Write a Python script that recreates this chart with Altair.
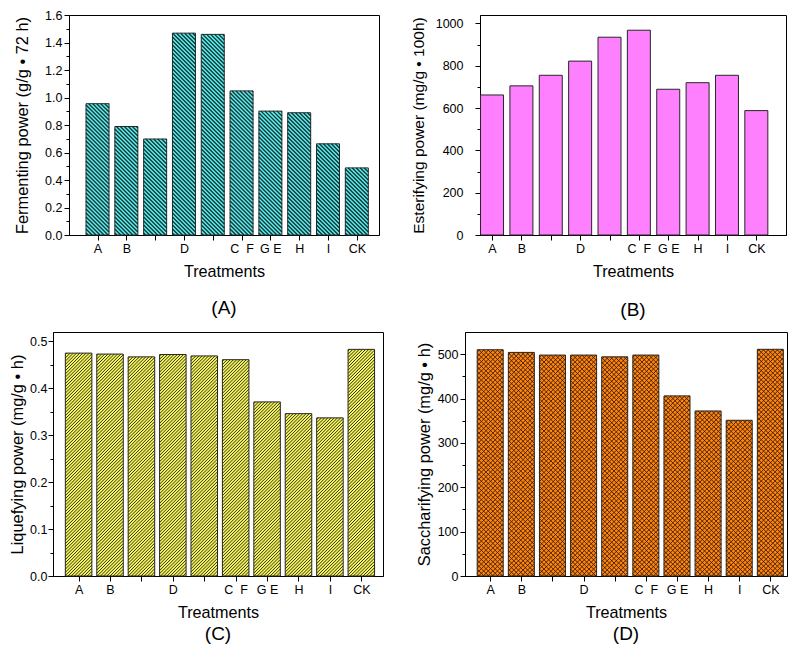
import json
import altair as alt

FONT = "Liberation Sans"
NB = "\u00a0"

# ---- data ----
positions = [1, 2, 3, 4, 5, 6, 7, 8, 9, 10]
tick_labels = ["A", "B", "", "D", "", "C" + NB * 2 + "F" + NB * 5,
               NB * 3 + "G" + NB + "E", "H", "I", "CK"]
fermenting = [0.955, 0.789, 0.698, 1.468, 1.459, 1.048, 0.901, 0.889, 0.663, 0.488]
esterifying = [662, 705, 755, 822, 935, 968, 689, 720, 755, 588]
liquefying = [0.475, 0.473, 0.467, 0.472, 0.469, 0.461, 0.371, 0.346, 0.337, 0.483]
saccharifying = [510, 504, 498, 498, 494, 498, 406, 372, 351, 511]


def hatch_lines(values, ymax, plot_h, xdom, plot_w, bar_w, period, direction):
    """45-degree hatch lines clipped to each bar, expressed in data units."""
    px_per_x = plot_w / (xdom[1] - xdom[0])
    per_px_y = ymax / plot_h
    recs = []
    for p, v in zip(positions, values):
        h = v / per_px_y
        w = bar_w
        c = period / 2.0 if direction == "back" else -h + period / 2.0
        end = w + h if direction == "back" else w
        while c < end:
            if direction == "back":      # dx + u = c
                d1, d2 = max(0.0, c - h), min(w, c)
                u1, u2 = c - d1, c - d2
            else:                        # dx - u = c
                d1, d2 = max(0.0, c), min(w, c + h)
                u1, u2 = d1 - c, d2 - c
            if d2 - d1 > 0.3:
                recs.append({
                    "hx": p + (d1 - w / 2) / px_per_x, "hx2": p + (d2 - w / 2) / px_per_x,
                    "hy": u1 * per_px_y, "hy2": u2 * per_px_y,
                })
            c += period
    return recs


def y_axis(title, values, minor_test, fmt, label_pad, ext, title_pad, title_size=16.4):
    return alt.Axis(
        title=title, values=values, grid=False,
        labelExpr=f"({minor_test}) ? '' : format(datum.value, '{fmt}')",
        tickSize={"condition": {"test": minor_test, "value": 3}, "value": 5},
        labelPadding=label_pad, titlePadding=title_pad,
        minExtent=ext, maxExtent=ext,
        labelFont=FONT, labelFontSize=12.5, labelColor="black",
        titleFont=FONT, titleFontSize=title_size, titleFontWeight="normal", titleColor="black",
        domainColor="black", tickColor="black", labelOverlap=False,
    )


def x_axis():
    return alt.Axis(
        title="Treatments", values=positions, grid=False,
        labelExpr=json.dumps(tick_labels, ensure_ascii=False) + "[datum.value - 1]",
        tickSize=5, labelPadding=2, titlePadding=9, labelOverlap=False, labelBound=False,
        labelFlush=False,
        labelFont=FONT, labelFontSize=12.5, labelColor="black",
        titleFont=FONT, titleFontSize=16.2, titleFontWeight="normal", titleColor="black",
        domainColor="black", tickColor="black",
    )


def panel(values, ymax, xdom, width, height, bar_w, yaxis, letter, title_offset,
          fill, hatch=()):
    xs = alt.Scale(domain=xdom, nice=False, zero=False, padding=0)
    ys = alt.Scale(domain=[0, ymax], nice=False, zero=True, padding=0)
    X = alt.X("pos:Q", scale=xs, axis=x_axis())
    Y = alt.Y("value:Q", scale=ys, stack=None, axis=yaxis)
    bars = alt.Data(values=[{"pos": p, "value": v} for p, v in zip(positions, values)])
    layers = [alt.Chart(bars).mark_bar(size=bar_w, orient="vertical", fill=fill,
                                       strokeWidth=0).encode(x=X, y=Y)]
    for period, direction, color, sw in hatch:
        lines = alt.Data(values=hatch_lines(values, ymax, height, xdom, width, bar_w,
                                            period, direction))
        layers.append(alt.Chart(lines).mark_rule(color=color, strokeWidth=sw).encode(
            x=alt.X("hx:Q", scale=xs, axis=x_axis()), x2="hx2:Q",
            y=alt.Y("hy:Q", scale=ys, axis=yaxis), y2="hy2:Q",
        ))
    layers.append(alt.Chart(bars).mark_bar(
        size=bar_w, orient="vertical", fill="transparent", stroke="#262626", strokeWidth=1
    ).encode(x=X, y=Y))
    return alt.layer(*layers).properties(
        width=width, height=height,
        title=alt.TitleParams(letter, orient="bottom", anchor="middle", frame="group",
                              font=FONT, fontSize=19, fontWeight="normal", color="black",
                              offset=title_offset),
    )


H1 = 220
H2 = 244

pA = panel(
    fermenting, 1.6, [0.01, 10.77], 310, H1, 23,
    y_axis("Fermenting power (g/g \u2022 72 h)", [round(i * 0.1, 1) for i in range(17)],
           "round(datum.value * 10) % 2 == 1", ".1f", 2, 25, 14),
    "(A)", 19, "#5ef0f0", hatch=[(4.0, "back", "#123434", 1.35)],
)
pB = panel(
    esterifying, 1040, [0.59, 11.01], 306, H1, 23,
    y_axis("Esterifying power (mg/g \u2022 100h)", list(range(0, 1001, 100)),
           "datum.value % 200 != 0", "d", 12, 45, 9, title_size=15.5),
    "(B)", 21, "#ff80ff",
)
pC = panel(
    liquefying, 0.52, [0.185, 10.69], 330, H2, 26.5,
    y_axis("Liquefying power (mg/g \u2022 h)", [round(i * 0.05, 2) for i in range(11)],
           "round(datum.value * 20) % 2 == 1", ".1f", 1, 24, 4),
    "(C)", 4, "#f6f664", hatch=[(3.2, "fwd", "#30300a", 1.0)],
)
pD = panel(
    saccharifying, 550, [0.19, 10.535], 322, H2, 26,
    y_axis("Saccharifying power (mg/g \u2022 h)", list(range(0, 501, 50)),
           "datum.value % 100 != 0", "d", 2, 28, 5),
    "(D)", 4, "#ff8410",
    hatch=[(4.6, "back", "#3a1c00", 0.9), (4.6, "fwd", "#3a1c00", 0.9)],
)

# tiny invisible element that lets row 1 start a little to the right of row 2
spacer = alt.Chart(alt.Data(values=[{"s": 0}])).mark_point(opacity=0, size=1).encode(
    x=alt.value(0), y=alt.value(0)
).properties(width=1, height=1, view=alt.ViewBackground(strokeOpacity=0, fillOpacity=0))

row1 = alt.hconcat(alt.hconcat(spacer, pA, spacing=-41), pB, spacing=30)
row2 = alt.hconcat(pC, pD, spacing=31)

chart = alt.vconcat(row1, row2, spacing=10).properties(
    padding={"left": 0, "top": 0, "right": 0, "bottom": 0}
).configure_view(stroke="black", strokeWidth=1)

chart.save("out.html", embed_options={"renderer": "svg", "actions": False})
